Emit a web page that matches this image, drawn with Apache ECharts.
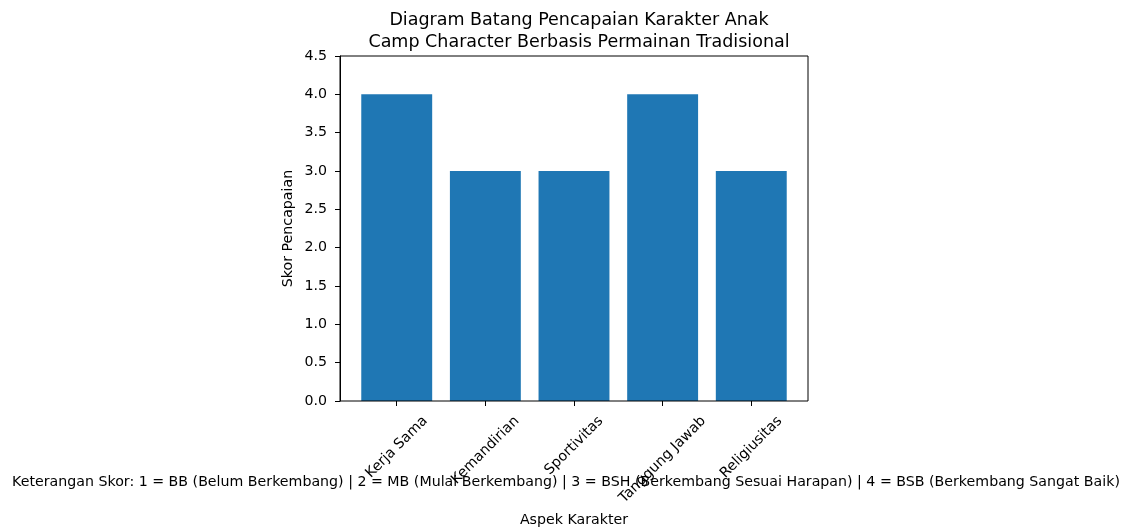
<!DOCTYPE html>
<html>
<head>
<meta charset="utf-8">
<script src="https://cdn.jsdelivr.net/npm/echarts@6/dist/echarts.min.js"></script>
<style>html,body{margin:0;padding:0;background:#fff;}#c{width:1128px;height:529px;}</style>
</head>
<body>
<div id="c"></div>
<script>
const categories = ['Kerja Sama', 'Kemandirian', 'Sportivitas', 'Tanggung Jawab', 'Religiusitas'];
const scores = [4, 3, 3, 4, 3];
const yMin = 0, yMax = 4.5, yStep = 0.5;
const titleText = 'Diagram Batang Pencapaian Karakter Anak\nCamp Character Berbasis Permainan Tradisional';
const noteText = 'Keterangan Skor: 1 = BB (Belum Berkembang) | 2 = MB (Mulai Berkembang) | 3 = BSH (Berkembang Sesuai Harapan) | 4 = BSB (Berkembang Sangat Baik)';
const xName = 'Aspek Karakter';
const yName = 'Skor Pencapaian';

const FONT = 'DejaVu Sans';
const FS = 14.2;
const LH = 16.5;
const ctx = document.createElement('canvas').getContext('2d');
ctx.font = FS + 'px "' + FONT + '"';
const rich = {};
categories.forEach((c, i) => {
  const L = ctx.measureText(c).width;
  const p = (L + LH) / 2;
  rich['l' + i] = {fontFamily: FONT, fontSize: FS, color: '#000', lineHeight: LH, padding: [p, p, 0, 0]};
});

const chart = echarts.init(document.getElementById('c'), null, {renderer: 'canvas'});
const unit = 468 / 5.28;
const g1Left = 340 + 0.14 * unit;
const g1Width = 5 * unit;
chart.setOption({
  animation: false,
  backgroundColor: '#fff',
  textStyle: {fontFamily: FONT},
  title: [
    {text: titleText, left: 574, top: 4, textAlign: 'center',
     textStyle: {fontFamily: FONT, fontSize: 17.5, fontWeight: 'normal', color: '#000', lineHeight: 22}},
    {text: noteText, left: 561, top: 470, textAlign: 'center',
     textStyle: {fontFamily: FONT, fontSize: FS, fontWeight: 'normal', color: '#000'}}
  ],
  grid: [
    {left: 340, top: 56, width: 468, height: 345, show: true, borderColor: '#000', borderWidth: 1, backgroundColor: 'transparent', containLabel: false, outerBoundsMode: 'none', z: 3},
    {left: g1Left, top: 56, width: g1Width, height: 345, containLabel: false, outerBoundsMode: 'none'}
  ],
  xAxis: [
    {gridIndex: 0, type: 'value', min: 0, max: 1, show: false},
    {gridIndex: 1, type: 'category', data: categories,
     axisLine: {show: false},
     axisTick: {show: true, alignWithLabel: true, length: 5, lineStyle: {color: '#000'}},
     axisLabel: {interval: 0, rotate: 45, align: 'center', verticalAlign: 'middle', margin: 12,
       hideOverlap: false,
       formatter: (v, i) => '{l' + i + '|' + v + '}', rich: rich},
     name: xName, nameLocation: 'middle', nameGap: 112,
     nameTextStyle: {fontFamily: FONT, fontSize: FS, color: '#000'}},
  ],
  yAxis: [
    {gridIndex: 0, type: 'value', min: yMin, max: yMax, interval: yStep,
     axisLine: {show: true, lineStyle: {color: '#000'}},
     axisTick: {show: true, length: 5, lineStyle: {color: '#000'}},
     axisLabel: {margin: 13, color: '#000', fontFamily: FONT, fontSize: FS, formatter: v => v.toFixed(1)},
     splitLine: {show: false},
     name: yName, nameLocation: 'middle', nameGap: 45,
     nameTextStyle: {fontFamily: FONT, fontSize: FS, color: '#000'}},
    {gridIndex: 1, type: 'value', min: yMin, max: yMax, show: false}
  ],
  series: [
    {type: 'bar', xAxisIndex: 1, yAxisIndex: 1, data: scores, barWidth: '80%',
     itemStyle: {color: '#1f77b4'},
     emphasis: {disabled: true}}
  ]
});
</script>
</body>
</html>
